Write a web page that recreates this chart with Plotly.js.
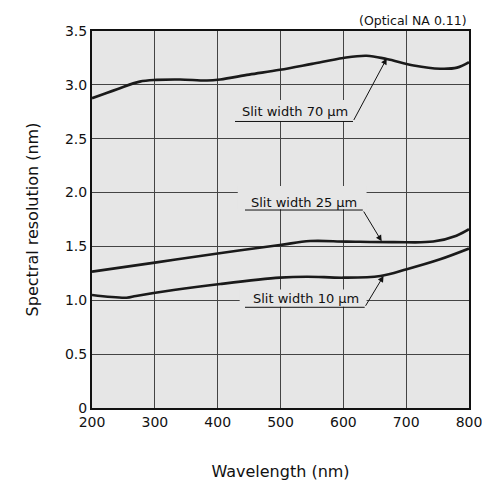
<!DOCTYPE html>
<html>
<head>
<meta charset="utf-8">
<script src="https://cdn.plot.ly/plotly-3.0.1.min.js"></script>
<style>html,body{margin:0;padding:0;background:#fff;}#chart{width:482px;height:484px;}</style>
</head>
<body>
<div id="chart"></div>
<script>
// Wavelength (nm) and spectral resolution (nm)
const wl70  = [200, 240, 276, 303, 340, 383, 404, 450, 499, 550, 600, 637, 669, 712, 754, 781, 800];
const res70 = [2.876, 2.96, 3.03, 3.046, 3.05, 3.04, 3.05, 3.095, 3.14, 3.195, 3.25, 3.27, 3.24, 3.18, 3.15, 3.16, 3.21];

const wl25  = [200, 300, 400, 499, 547, 605, 680, 743, 780, 800];
const res25 = [1.266, 1.35, 1.435, 1.513, 1.55, 1.545, 1.54, 1.545, 1.60, 1.66];

const wl10  = [200, 255, 270, 330, 404, 499, 542, 600, 659, 701, 754, 800];
const res10 = [1.049, 1.024, 1.04, 1.095, 1.151, 1.21, 1.219, 1.21, 1.226, 1.288, 1.38, 1.48];

const yTickVals = [0, 0.5, 1.0, 1.5, 2.0, 2.5, 3.0, 3.5];
const yTickText = ['0', '0.5', '1.0', '1.5', '2.0', '2.5', '3.0', '3.5'];
const xTickVals = [200, 300, 400, 500, 600, 700, 800];

const labels = ['Slit width 70 µm', 'Slit width 25 µm', 'Slit width 10 µm'];

const FONT = 'DejaVu Sans, Verdana, sans-serif';
const BG = '#e6e6e6';
const INK = '#111';
const lineStyle = {color: '#1a1a1a', width: 2.6, shape: 'spline', smoothing: 1};

const traces = [
  {x: wl70, y: res70, mode: 'lines', line: lineStyle, hoverinfo: 'skip'},
  {x: wl25, y: res25, mode: 'lines', line: lineStyle, hoverinfo: 'skip'},
  {x: wl10, y: res10, mode: 'lines', line: lineStyle, hoverinfo: 'skip'}
];

function labelAnn(text, x, y) {
  return {text: text, x: x, y: y, xref: 'x', yref: 'y', showarrow: false,
          xanchor: 'center', yanchor: 'middle', borderpad: 0,
          font: {family: FONT, size: 13, color: INK}};
}
function arrowAnn(x, y, ax, ay) {
  return {text: '', x: x, y: y, ax: ax, ay: ay, xref: 'x', yref: 'y', axref: 'x', ayref: 'y',
          showarrow: true, arrowhead: 2, arrowsize: 1.2, arrowwidth: 1, arrowcolor: INK, standoff: 0};
}
function underline(x0, x1, y) {
  return {type: 'line', xref: 'x', yref: 'y', x0: x0, x1: x1, y0: y, y1: y, layer: 'above',
          line: {color: INK, width: 1}};
}
// plot-colour patch hiding the grid behind a label (drawn below the curves)
function gridGap(x0, x1, y0, y1) {
  return {type: 'rect', xref: 'x', yref: 'y', x0: x0, x1: x1, y0: y0, y1: y1, layer: 'between',
          fillcolor: BG, line: {width: 0}};
}

const layout = {
  width: 482, height: 484,
  margin: {l: 92, r: 13, t: 31, b: 76},
  paper_bgcolor: '#ffffff',
  plot_bgcolor: BG,
  showlegend: false,
  font: {family: FONT, size: 14, color: INK},
  xaxis: {
    range: [200, 800], tickvals: xTickVals, ticks: '', ticklabeloverflow: 'allow',
    showgrid: true, gridcolor: '#444', gridwidth: 1, zeroline: false,
    showline: true, linecolor: INK, linewidth: 2, mirror: true,
    tickfont: {family: FONT, size: 14, color: INK},
    title: {text: 'Wavelength (nm)', font: {family: FONT, size: 16, color: INK}, standoff: 37}
  },
  yaxis: {
    range: [0, 3.5], tickvals: yTickVals, ticktext: yTickText, ticks: '',
    showgrid: true, gridcolor: '#444', gridwidth: 1, zeroline: false,
    showline: true, linecolor: INK, linewidth: 2, mirror: true,
    tickfont: {family: FONT, size: 14, color: INK},
    title: {text: 'Spectral resolution (nm)', font: {family: FONT, size: 16, color: INK}, standoff: 22}
  },
  shapes: [
    gridGap(431, 615, 2.665, 2.86),
    gridGap(432, 637, 1.845, 2.06),
    gridGap(435, 637, 0.94, 1.10),
    underline(427.6, 615.4, 2.66),
    underline(443.5, 631, 1.838),
    underline(443.5, 634, 0.935)
  ],
  annotations: [
    labelAnn(labels[0], 523, 2.753),
    labelAnn(labels[1], 538, 1.908),
    labelAnn(labels[2], 540, 1.012),
    arrowAnn(669, 3.245, 615.4, 2.66),
    arrowAnn(661, 1.548, 631, 1.838),
    arrowAnn(664, 1.226, 634, 0.935),
    {text: '(Optical NA 0.11)', xref: 'paper', yref: 'paper', x: 1, y: 1, yshift: 1,
     xanchor: 'right', yanchor: 'bottom', showarrow: false,
     font: {family: FONT, size: 12.5, color: INK}}
  ]
};

Plotly.newPlot('chart', traces, layout, {staticPlot: true, displayModeBar: false});
</script>
</body>
</html>
